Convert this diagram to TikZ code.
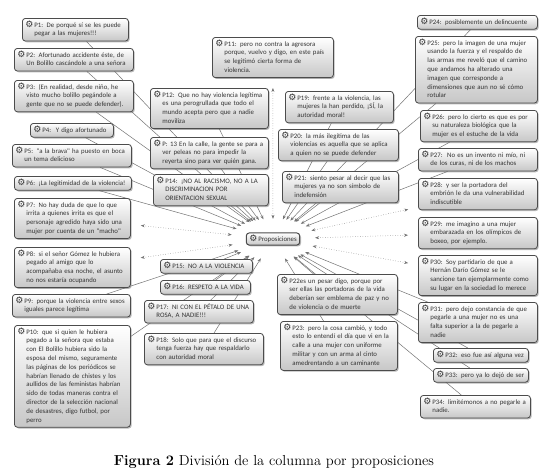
\documentclass[tikz,border=0pt]{standalone}
\usepackage{fontspec}
\usepackage{xcolor}
\usepackage{tikz}
\usetikzlibrary{arrows.meta,shadows,shapes.geometric,backgrounds}
\newfontfamily\boxfont{Carlito}
\newfontfamily\symfont{DejaVu Sans}
\newcommand{\gear}{{\symfont\fontsize{9}{9}\selectfont\raisebox{-0.5pt}{\char"2699}}}
\newcommand{\plines}[1]{\gear\hspace{1pt}\begin{tabular}[t]{@{}l@{}}#1\end{tabular}}

\begin{document}
\begin{tikzpicture}[x=1pt,y=-1pt,>=stealth,
    pbox/.style={draw=black!70,line width=0.8pt,rounded corners=3pt,
        top color=white,bottom color=black!22,
        drop shadow={shadow xshift=1.3pt,shadow yshift=-1.3pt,fill=black!55},
        anchor=north west,inner xsep=3pt,inner ysep=2.5pt,align=left,
        font=\boxfont\fontsize{6.8}{8.8}\selectfont,text=black!80},
    link/.style={draw=black!55,line width=0.5pt,-{Stealth[length=4pt,width=3pt]}},
    dotlink/.style={draw=black!55,line width=0.5pt,dotted,
        {Stealth[length=4pt,width=3pt]}-{Stealth[length=4pt,width=3pt]},shorten <=10pt}]

        \useasboundingbox (0,0) rectangle (548,475);

        % Central node and the ring where the links end
        \node[pbox,anchor=center,line width=1pt] (prop) at (273,239) {\gear\hspace{1pt}Proposiciones};
        \node[ellipse,minimum width=84pt,minimum height=40pt,inner sep=0pt] (ring) at (273,239) {};

        % Left column
        \node[pbox,text width=100pt] (p1) at (22,18) {\plines{P1: De porqué sí se les puede\\pegar a las mujeres!!!}};
        \node[pbox,text width=113pt] (p2) at (14,48) {\plines{P2: Afortunado accidente éste, de\\Un Bolillo cascándole a una señora}};
        \node[pbox,text width=113pt] (p3) at (14,80) {\plines{P3: (En realidad, desde niño, he\\visto mucho bolillo pegándole a\\gente que no se puede defender).}};
        \node[pbox,text width=77pt] (p4) at (30,123) {\plines{P4:\ \ Y digo afortunado}};
        \node[pbox,text width=113pt] (p5) at (12,144) {\plines{P5: "a la brava" ha puesto en boca\\un tema delicioso}};
        \node[pbox,text width=111pt] (p6) at (14,176) {\plines{P6: ¡La legitimidad de la violencia!}};
        \node[pbox,text width=110pt] (p7) at (14,198) {\plines{P7: No hay duda de que lo que\\irrita a quienes irrita es que el\\personaje agredido haya sido una\\mujer por cuenta de un "macho"}};
        \node[pbox,text width=110pt] (p8) at (14,247) {\plines{P8: si el señor Gómez le hubiera\\pegado al amigo que lo\\acompañaba esa noche, el asunto\\no nos estaría ocupando}};
        \node[pbox,text width=112pt] (p9) at (12,294) {\plines{P9: porque la violencia entre sexos\\iguales parece legítima}};
        \node[pbox,text width=110pt] (p10) at (14,325) {\plines{P10: que si quien le hubiera\\pegado a la señora que estaba\\con El Bolillo hubiera sido la\\esposa del mismo, seguramente\\las páginas de los periódicos se\\habrían llenado de chistes y los\\aullidos de las feministas habrían\\sido de todas maneras contra el\\director de la selección nacional\\de desastres, digo futbol, por\\perro}};

        % Middle, left of the centre
        \node[pbox,text width=115pt] (p11) at (212,37) {\plines{P11: pero no contra la agresora\\porque, vuelvo y digo, en este país\\se legitimó cierta forma de\\violencia.}};
        \node[pbox,text width=112pt] (p12) at (150,88) {\plines{P12: Que no hay violencia legítima\\es una perogrullada que todo el\\mundo acepta pero que a nadie\\moviliza}};
        \node[pbox,text width=112pt] (p13) at (150,137) {\plines{P: 13 En la calle, la gente se para a\\ver peleas no para impedir la\\reyerta sino para ver quién gana.}};
        \node[pbox,text width=109pt] (p14) at (153,174) {\plines{P14: ¡NO AL RACISMO, NO A LA\\DISCRIMINACION POR\\ORIENTACION SEXUAL}};
        \node[pbox,text width=86pt] (p15) at (160,259) {\plines{P15: NO A LA VIOLENCIA}};
        \node[pbox,text width=84pt] (p16) at (160,280) {\plines{P16: RESPETO A LA VIDA}};
        \node[pbox,text width=103pt] (p17) at (144,300) {\plines{P17: NI CON EL PÉTALO DE UNA\\ROSA, A NADIE!!!}};
        \node[pbox,text width=113pt] (p18) at (144,333) {\plines{P18: Solo que para que el discurso\\tenga fuerza hay que respaldarlo\\con autoridad moral}};

        % Middle, right of the centre
        \node[pbox,text width=102pt] (p19) at (285,91) {\plines{P19: frente a la violencia, las\\mujeres la han perdido, ¡SÍ, la\\autoridad moral!}};
        \node[pbox,text width=114pt] (p20) at (278,129) {\plines{P20: la más ilegítima de las\\violencias es aquella que se aplica\\a quien no se puede defender}};
        \node[pbox,text width=110pt] (p21) at (282,171) {\plines{P21: siento pesar al decir que las\\mujeres ya no son símbolo de\\indefensión}};
        \node[pbox,text width=114pt] (p22) at (277,274) {\plines{P22es un pesar digo, porque por\\ser ellas las portadoras de la vida\\deberían ser emblema de paz y no\\de violencia o de muerte}};
        \node[pbox,text width=111pt] (p23) at (280,321) {\plines{P23: pero la cosa cambió, y todo\\esto lo entendí el día que vi en la\\calle a una mujer con uniforme\\militar y con un arma al cinto\\amedrentando a un caminante}};

        % Right column
        \node[pbox,text width=114pt] (p24) at (417,15) {\plines{P24: posiblemente un delincuente}};
        \node[pbox,text width=116pt] (p25) at (415,36) {\plines{P25: pero la imagen de una mujer\\usando la fuerza y el respaldo de\\las armas me reveló que el camino\\que andamos ha alterado una\\imagen que corresponde a\\dimensiones que aun no sé cómo\\rotular}};
        \node[pbox,text width=111pt] (p26) at (420,110) {\plines{P26: pero lo cierto es que es por\\su naturaleza biológica que la\\mujer es el estuche de la vida}};
        \node[pbox,text width=113pt] (p27) at (418,148) {\plines{P27:\ \ No es un invento ni mío, ni\\de los curas, ni de los machos}};
        \node[pbox,text width=113pt] (p28) at (418,178) {\plines{P28: y ser la portadora del\\embrión le da una vulnerabilidad\\indiscutible}};
        \node[pbox,text width=113pt] (p29) at (418,217) {\plines{P29: me imagino a una mujer\\embarazada en los olímpicos de\\boxeo, por ejemplo.}};
        \node[pbox,text width=113pt] (p30) at (418,255) {\plines{P30: Soy partidario de que a\\Hernán Darío Gómez se le\\sancione tan ejemplarmente como\\su lugar en la sociedad lo merece}};
        \node[pbox,text width=113pt] (p31) at (418,302) {\plines{P31: pero dejo constancia de que\\pegarle a una mujer no es una\\falta superior a la de pegarle a\\nadie}};
        \node[pbox,text width=89pt] (p32) at (433,348) {\plines{P32: eso fue así alguna vez}};
        \node[pbox,text width=89pt] (p33) at (433,368) {\plines{P33: pero ya lo dejó de ser}};
        \node[pbox,text width=104pt] (p34) at (420,395) {\plines{P34: limitémonos a no pegarle a\\nadie.}};

        % Links behind the boxes
        \begin{pgfonlayer}{background}
        \draw[link] (p1) -- (ring);  \draw[link] (p2) -- (ring);  \draw[link] (p3) -- (ring);
        \draw[link] (p4) -- (ring);  \draw[link] (p5) -- (ring);  \draw[link] (p6) -- (ring);
        \draw[dotlink] (p7) -- (ring); \draw[dotlink] (p8) -- (ring);
        \draw[link] (p9) -- (ring);  \draw[link] (p10) -- (ring);
        \draw[dotlink] (p11) -- (ring);
        \draw[link] (p12) -- (ring); \draw[link] (p13) -- (ring); \draw[link] (p14) -- (ring);
        \draw[link] (p15) -- (ring); \draw[link] (p16) -- (ring); \draw[link] (p17) -- (ring);
        \draw[link] (p18) -- (ring); \draw[link] (p19) -- (ring); \draw[link] (p20) -- (ring);
        \draw[link] (p21) -- (ring); \draw[link] (p22) -- (ring); \draw[link] (p23) -- (ring);
        \draw[link] (p24) -- (ring); \draw[link] (p25) -- (ring); \draw[link] (p26) -- (ring);
        \draw[link] (p27) -- (ring);
        \draw[dotlink] (p28) -- (ring); \draw[dotlink] (p29) -- (ring); \draw[dotlink] (p30) -- (ring);
        \draw[link] (p31) -- (ring); \draw[link] (p32) -- (ring); \draw[link] (p33) -- (ring);
        \draw[link] (p34) -- (ring);
        \end{pgfonlayer}

        % Caption
        \node (cap) at (274,462) {\fontsize{14.5}{16}\selectfont\textbf{Figura 2} División de la columna por proposiciones};
\end{tikzpicture}
\end{document}
